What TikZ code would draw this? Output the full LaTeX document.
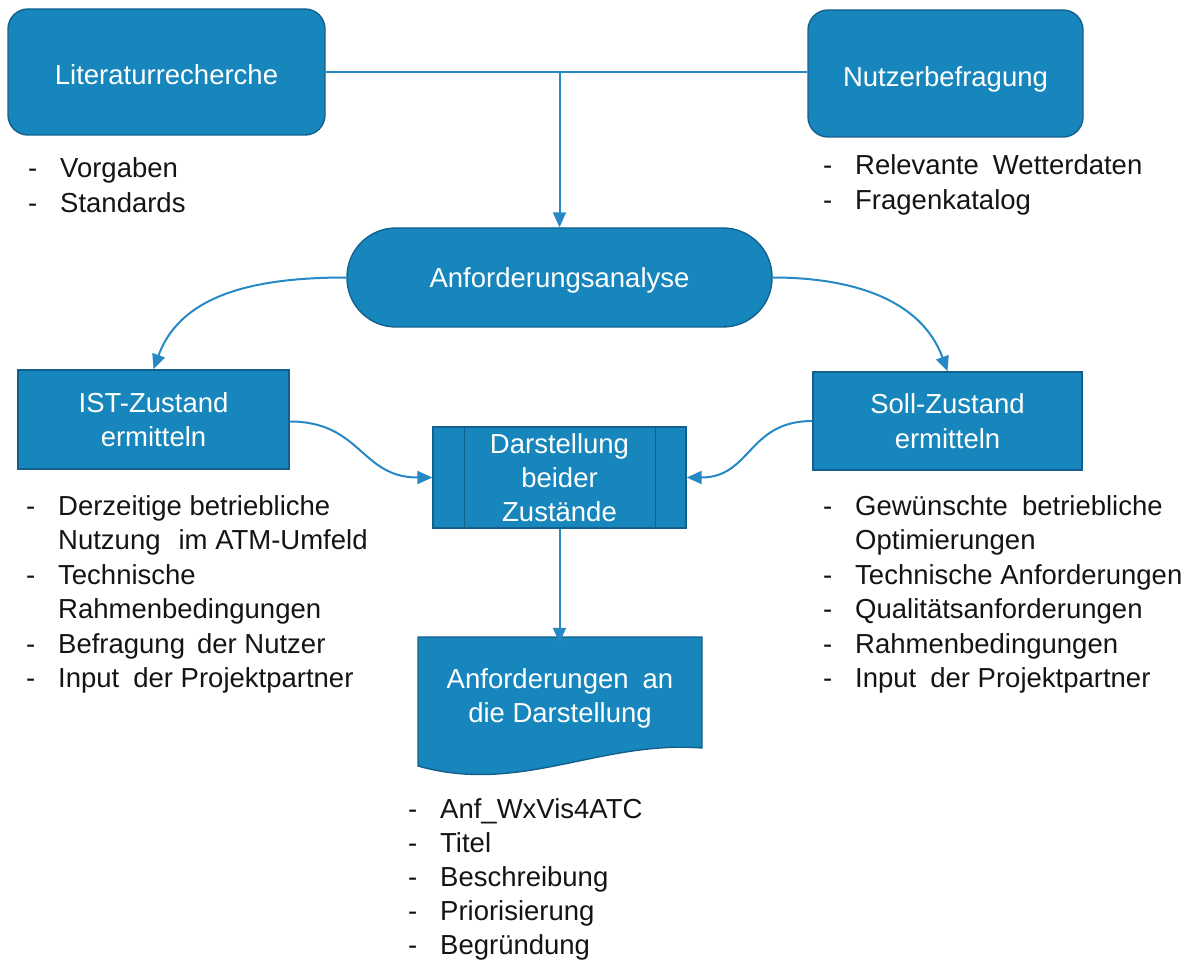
\documentclass[tikz,border=0pt]{standalone}
\usepackage{fontspec}
\setmainfont{Liberation Sans}
\usetikzlibrary{arrows.meta,calc}
\definecolor{boxblue}{RGB}{23,134,188}
\definecolor{boxedge}{RGB}{20,96,140}
\definecolor{linkblue}{RGB}{38,136,196}
\definecolor{listtext}{RGB}{20,20,20}
\newcommand\myitem[1]{\hbox{\makebox[32pt][l]{-}#1}}
\newcommand\mycont[1]{\hbox{\hspace*{32pt}#1}}
\newcommand\wgap{\hspace{14pt}}
\begin{document}
\begin{tikzpicture}[x=1pt,y=1pt,
  every node/.style={font=\fontsize{27.5}{34.5}\selectfont},
  bluebox/.style={draw=boxedge, fill=boxblue, line width=1.4pt, text=white, align=center, inner sep=0pt},
  oneline/.style={text height=26pt, text depth=0pt},
  link/.style={draw=linkblue, line width=2pt},
  arr/.style={link, -{Triangle[length=15pt,width=13pt]}},
  listnode/.style={anchor=base west, inner sep=0pt, text=listtext}]
\useasboundingbox (0,0) rectangle (1195,-960);

% top boxes
\node[bluebox, oneline, rounded corners=20pt, minimum width=317, minimum height=126] (lit) at (166.5,-72) {Literaturrecherche};
\node[bluebox, oneline, rounded corners=20pt, minimum width=275, minimum height=127] (nut) at (945.5,-73.5) {Nutzerbefragung};

% oval
\node[bluebox, text height=24pt, text depth=3pt, rounded corners=49pt, minimum width=425, minimum height=99] (ana) at (559.5,-277.5) {Anforderungsanalyse};

% state boxes
\node[bluebox, minimum width=271, minimum height=99] (ist) at (153.5,-419.5) {IST-Zustand\\ermitteln};
\node[bluebox, minimum width=269, minimum height=98] (soll) at (947.5,-421) {Soll-Zustand\\ermitteln};

% predefined process
\node[bluebox, minimum width=253, minimum height=101, font=\fontsize{27.5}{34}\selectfont] (dar) at (559.5,-477.5) {Darstellung\\beider\\Zustände};
\draw[boxedge, line width=1.4pt] ($(dar.north west)+(32,0)$) -- ($(dar.south west)+(32,0)$);
\draw[boxedge, line width=1.4pt] ($(dar.north east)+(-31,0)$) -- ($(dar.south east)+(-31,0)$);

% document shape
\path[fill=boxblue, draw=boxedge, line width=1.4pt] (418,-637) -- (702,-637) -- (702,-748)
  .. controls (600,-740) and (520,-795) .. (418,-766) -- cycle;
\node[text=white, align=center, inner sep=0pt, minimum width=284, minimum height=111] (doc) at (560,-698.5) {Anforderungen\wgap an\\die Darstellung};

% connectors
\draw[link] (lit.east) -- (lit.east -| nut.west);
\draw[arr] (lit.east -| ana.north) -- (ana.north);
\draw[arr] (ana.west) to[out=180, in=70] (ist.north);
\draw[arr] (ana.east) to[out=0, in=110] (soll.north);
\draw[arr] ([yshift=-2pt]ist.east) to[out=0, in=180, looseness=1.2] (dar.west);
\draw[arr] (soll.west) to[out=180, in=0, looseness=1.2] (dar.east);
\draw[arr] (dar.south) -- (dar.south |- doc.north);

% lists
\node[listnode] (l1) at (28,-178) {\vtop{\myitem{Vorgaben}\myitem{Standards}}};
\node[listnode] (l2) at (823,-175) {\vtop{\myitem{Relevante\wgap Wetterdaten}\myitem{Fragenkatalog}}};
\node[listnode] (l3) at (26,-515) {\vtop{\myitem{Derzeitige betriebliche}\mycont{Nutzung\hspace{18pt}im ATM-Umfeld}\myitem{Technische}\mycont{Rahmenbedingungen}\myitem{Befragung\hspace{12pt}der Nutzer}\myitem{Input\hspace{14pt}der Projektpartner}}};
\node[listnode] (l4) at (823,-515) {\vtop{\myitem{Gewünschte\wgap betriebliche}\mycont{Optimierungen}\myitem{Technische Anforderungen}\myitem{Qualitätsanforderungen}\myitem{Rahmenbedingungen}\myitem{Input\hspace{14pt}der Projektpartner}}};
\node[listnode, font=\fontsize{27.5}{34}\selectfont] (l5) at (408,-818) {\vtop{\myitem{Anf\_WxVis4ATC}\myitem{Titel}\myitem{Beschreibung}\myitem{Priorisierung}\myitem{Begründung}}};
\end{tikzpicture}
\end{document}
